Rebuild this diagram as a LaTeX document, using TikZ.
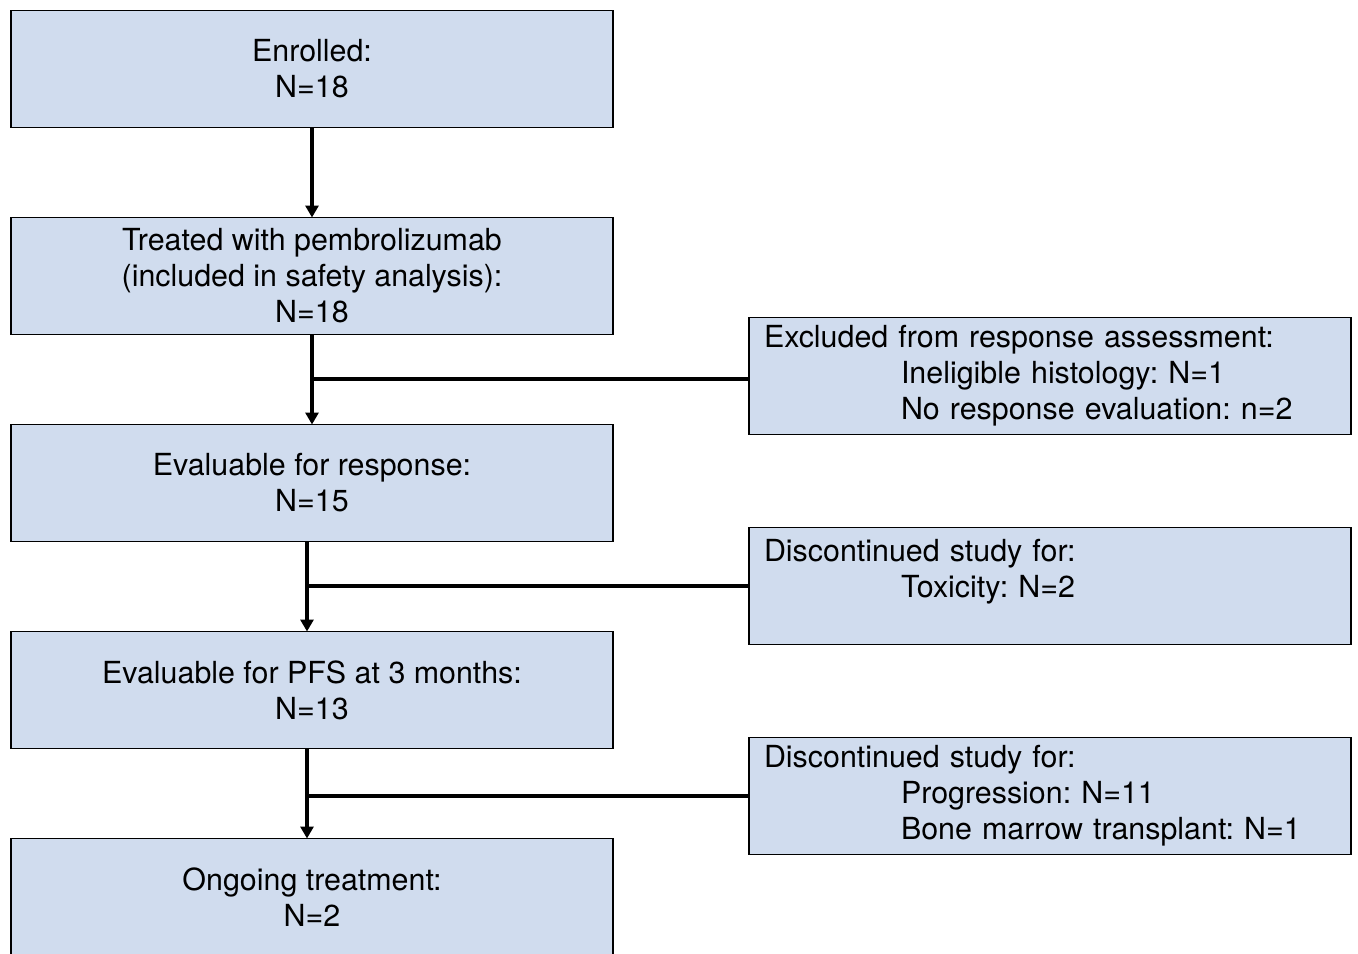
\documentclass[tikz,border=0pt]{standalone}
\usepackage{fontspec}
\setmainfont{TeX Gyre Heros}
\usepackage{tikz}
\usetikzlibrary{positioning}
\usetikzlibrary{arrows.meta}
\definecolor{boxfill}{RGB}{208,220,238}
\frenchspacing

\begin{document}
\begin{tikzpicture}[
    box/.style={draw=black, line width=1.1pt, fill=boxfill, minimum width=12.04cm, minimum height=2.34cm, align=center, inner sep=0pt, outer sep=0pt, font=\fontsize{17.3}{20.5}\selectfont},
    sidebox/.style={box, align=left, text width=11.44cm, inner xsep=0.3cm},
    flow/.style={line width=2.3pt, -{Triangle[length=0.24cm, width=0.26cm]}},
    branch/.style={line width=2.3pt}]
    \useasboundingbox (0,0) rectangle (27.16,-19.08);

    \node[box] (enrolled) at (6.24,-1.38) {Enrolled:\\N=18};
    \node[box, below=1.8cm of enrolled] (treated) {Treated with pembrolizumab\\(included in safety analysis):\\N=18};
    \node[box, below=1.8cm of treated] (response) {Evaluable for response:\\N=15};
    \node[box, below=1.8cm of response] (pfs) {Evaluable for PFS at 3 months:\\N=13};
    \node[box, below=1.8cm of pfs] (ongoing) {Ongoing treatment:\\N=2};

    \node[sidebox, right=2.72cm of treated, yshift=-2cm] (excluded) {Excluded from response assessment:\\\hspace*{2.74cm}Ineligible histology: N=1\\\hspace*{2.74cm}No response evaluation: n=2};
    \node[sidebox, right=2.72cm of response, yshift=-2.06cm] (toxicity) {Discontinued study for:\\\hspace*{2.74cm}Toxicity: N=2\\\mbox{}};
    \node[sidebox, right=2.72cm of pfs, yshift=-2.12cm] (progression) {Discontinued study for:\\\hspace*{2.74cm}Progression: N=11\\\hspace*{2.74cm}Bone marrow transplant: N=1};

    \coordinate (r2) at ([xshift=-0.1cm]response.south);
    \coordinate (p1) at ([xshift=-0.1cm]pfs.north);
    \coordinate (p2) at ([xshift=-0.1cm]pfs.south);
    \coordinate (o1) at ([xshift=-0.1cm]ongoing.north);
    \coordinate (x1) at ([yshift=-0.06cm]excluded.west);

    \draw[flow] (enrolled) -- (treated);
    \draw[flow] (treated) -- (response);
    \draw[flow] (r2) -- (p1);
    \draw[flow] (p2) -- (o1);

    \draw[branch] (x1) -- (x1 -| treated.south);
    \draw[branch] (toxicity.west) -- (toxicity.west -| r2);
    \draw[branch] (progression.west) -- (progression.west -| p2);
\end{tikzpicture}
\end{document}
